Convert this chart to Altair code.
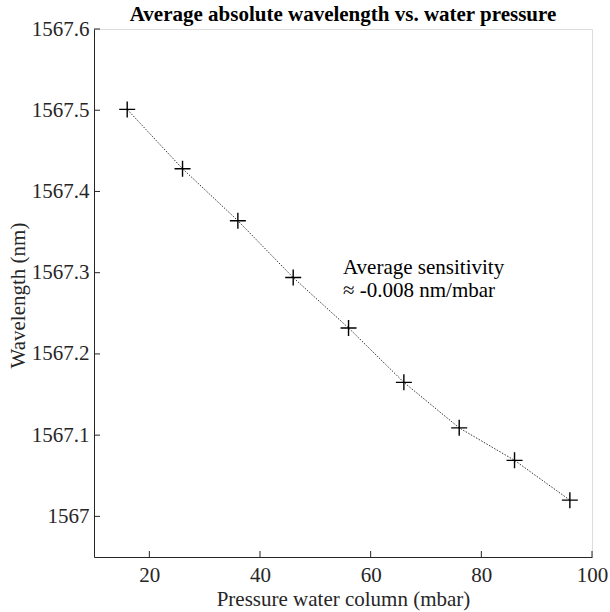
import altair as alt
import pandas as pd

# Data
pressure = [16, 26, 36, 46, 56, 66, 76, 86, 96]
wavelength = [1567.501, 1567.428, 1567.364, 1567.294, 1567.232, 1567.165, 1567.109, 1567.069, 1567.020]
x_ticks = [20, 40, 60, 80, 100]
y_ticks = [1567.0, 1567.1, 1567.2, 1567.3, 1567.4, 1567.5, 1567.6]
note_x = [55]
note_y = [1567.298]
note_text = ["Average sensitivity\n\u2248 -0.008 nm/mbar"]

df = pd.DataFrame({"p": pressure, "w": wavelength})
xt = pd.DataFrame({"t": x_ticks})
yt = pd.DataFrame({"t": y_ticks})
note = pd.DataFrame({"x": note_x, "y": note_y, "text": note_text})

FONT = "Times New Roman, Liberation Serif, Times, serif"
AX = "#262626"
W, H = 498, 528

xscale = alt.Scale(domain=[10, 100], nice=False, zero=False)
yscale = alt.Scale(domain=[1566.95, 1567.6], nice=False, zero=False)

xaxis = alt.Axis(values=x_ticks, ticks=False, tickSize=0, grid=False, labelFont=FONT,
                 labelFontSize=21, labelColor=AX, labelBaseline="alphabetic", labelPadding=24,
                 domainColor=AX, domainWidth=1, title="Pressure water column (mbar)",
                 titleFont=FONT, titleFontSize=21, titleFontWeight="normal", titleColor=AX,
                 titleBaseline="alphabetic", titleX=W / 2, titleY=48, titleAlign="center",
                 labelFlush=False, labelExpr="datum.value")
yaxis = alt.Axis(values=y_ticks, ticks=False, tickSize=0, grid=False, labelFont=FONT,
                 labelFontSize=21, labelColor=AX, labelPadding=5, labelBaseline="middle",
                 domainColor=AX, domainWidth=1, title="Wavelength (nm)",
                 titleFont=FONT, titleFontSize=21, titleFontWeight="normal", titleColor=AX,
                 titleBaseline="alphabetic", titleX=-70, titleY=266, titleAlign="center",
                 titleAngle=270, labelFlush=False, labelExpr="datum.value")

line = alt.Chart(df).mark_line(color="#333333", strokeWidth=1, strokeDash=[1.5, 1.5]).encode(
    x=alt.X("p:Q", scale=xscale, axis=xaxis),
    y=alt.Y("w:Q", scale=yscale, axis=yaxis),
)

pts = alt.Chart(df).mark_point(shape="M-1,0L1,0M0,-1L0,1", size=256, filled=False,
                               color="black", strokeWidth=1.4, opacity=1).encode(
    x=alt.X("p:Q", scale=xscale),
    y=alt.Y("w:Q", scale=yscale),
)

ytick_rules = alt.Chart(yt).mark_rule(color=AX, strokeWidth=1).encode(
    y=alt.Y("t:Q", scale=yscale),
    x=alt.value(0),
    x2=alt.value(6),
)
xtick_rules = alt.Chart(xt).mark_rule(color=AX, strokeWidth=1).encode(
    x=alt.X("t:Q", scale=xscale),
    y=alt.value(H),
    y2=alt.value(H - 6),
)

txt = alt.Chart(note).mark_text(font=FONT, fontSize=21, align="left", baseline="alphabetic",
                                lineBreak="\n", lineHeight=23, color="black").encode(
    x=alt.X("x:Q", scale=xscale),
    y=alt.Y("y:Q", scale=yscale),
    text="text:N",
)

chart = alt.layer(line, pts, ytick_rules, xtick_rules, txt).properties(
    width=W, height=H,
    title=alt.TitleParams("Average absolute wavelength vs. water pressure", font=FONT,
                          fontSize=21, fontWeight="bold", color="black", anchor="middle",
                          baseline="alphabetic", offset=7, dy=31, frame="group"),
    autosize="none",
    padding={"left": 94, "top": 29, "right": 18, "bottom": 55},
).configure_view(stroke=None).configure(background="white")

chart.save("out.html", embed_options={"renderer": "svg", "actions": False})
